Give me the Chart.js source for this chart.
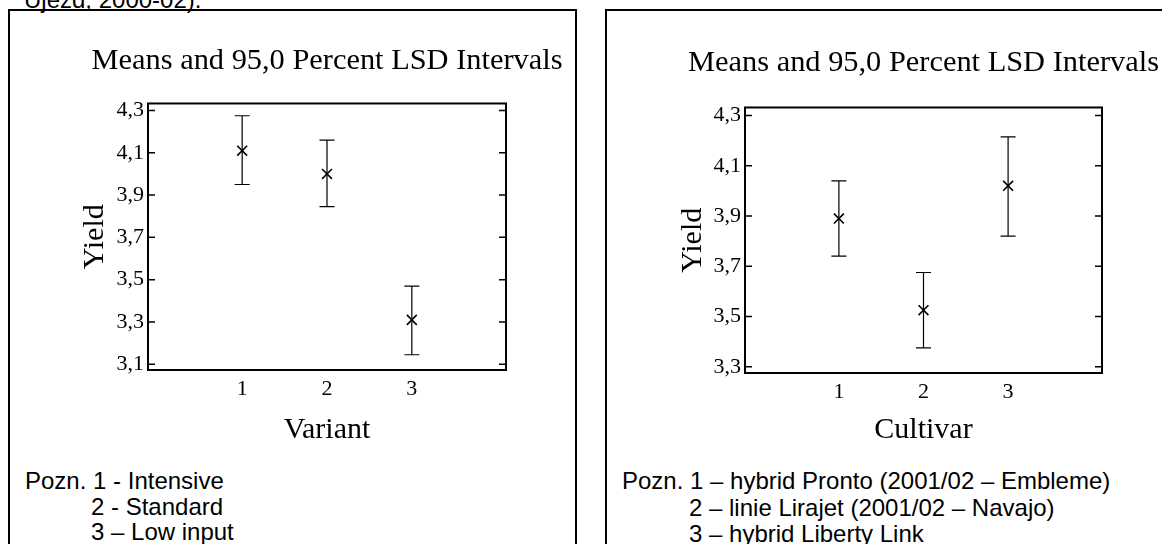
<!DOCTYPE html>
<html>
<head>
<meta charset="utf-8">
<script src="https://cdn.jsdelivr.net/npm/chart.js@4.4.1/dist/chart.umd.min.js"></script>
<style>
  html, body { margin: 0; padding: 0; background: #fff; }
  body { width: 1162px; height: 544px; position: relative; overflow: hidden; }
  .frame { position: absolute; border: 2px solid #000; box-sizing: border-box; }
  .note { position: absolute; font-family: "Liberation Sans", Arial, sans-serif; font-size: 24px; line-height: 26px; color: #000; white-space: nowrap; }
  canvas { position: absolute; top: 0; }
</style>
</head>
<body>
<div class="note" style="left:24px; top:-13px;">Ujezd, 2000-02).</div>
<div class="frame" style="left:8px; top:9px; width:569px; height:600px;"></div>
<div class="frame" style="left:605px; top:9px; width:600px; height:600px;"></div>

<canvas id="variantChart" width="580" height="460" style="left:0px;"></canvas>
<canvas id="cultivarChart" width="600" height="460" style="left:582px;"></canvas>

<div class="note" style="left:25px; top:468px;">Pozn. 1 - Intensive</div>
<div class="note" style="left:91px; top:494px;">2 - Standard</div>
<div class="note" style="left:91px; top:519px;">3 – Low input</div>

<div class="note" style="left:622px; top:468px;">Pozn. 1 – hybrid Pronto (2001/02 – Embleme)</div>
<div class="note" style="left:689px; top:495px;">2 – linie Lirajet (2001/02 – Navajo)</div>
<div class="note" style="left:689px; top:521px;">3 – hybrid Liberty Link</div>

<script>
// data
const chartTitle = "Means and 95,0 Percent LSD Intervals";

const variantX = [1, 2, 3];
const variantMeans = [4.11, 4.0, 3.31];
const variantLow = [3.95, 3.845, 3.145];
const variantHigh = [4.275, 4.16, 3.47];
const variantTicks = [3.1, 3.3, 3.5, 3.7, 3.9, 4.1, 4.3];

const cultivarX = [1, 2, 3];
const cultivarMeans = [3.89, 3.525, 4.02];
const cultivarLow = [3.74, 3.375, 3.82];
const cultivarHigh = [4.04, 3.675, 4.215];
const cultivarTicks = [3.3, 3.5, 3.7, 3.9, 4.1, 4.3];

const serif = "'Liberation Serif', 'Times New Roman', serif";

Chart.defaults.color = "#000";

// LSD whiskers, plot frame and inner tick marks
const lsdPlugin = {
  id: "lsd",
  afterDatasetsDraw(chart) {
    const ctx = chart.ctx;
    const xs = chart.scales.x, ys = chart.scales.y;
    const a = chart.chartArea;
    ctx.save();
    ctx.strokeStyle = "#000";

    chart.data.datasets.forEach((ds) => {
      ds.data.forEach((p, i) => {
        const px = xs.getPixelForValue(p.x);
        const top = ys.getPixelForValue(ds.errHigh[i]);
        const bot = ys.getPixelForValue(ds.errLow[i]);
        ctx.lineWidth = 1.2;
        ctx.beginPath();
        ctx.moveTo(px, top);
        ctx.lineTo(px, bot);
        ctx.moveTo(px - 7.5, top);
        ctx.lineTo(px + 7.5, top);
        ctx.moveTo(px - 7.5, bot);
        ctx.lineTo(px + 7.5, bot);
        ctx.stroke();
      });
    });

    ctx.lineWidth = 1.5;
    ys.ticks.forEach((t) => {
      const py = ys.getPixelForValue(t.value);
      ctx.beginPath();
      ctx.moveTo(a.left, py);
      ctx.lineTo(a.left + 7, py);
      ctx.moveTo(a.right - 7, py);
      ctx.lineTo(a.right, py);
      ctx.stroke();
    });

    ctx.lineWidth = 2;
    ctx.strokeRect(a.left, a.top, a.right - a.left, a.bottom - a.top);
    ctx.restore();
  },
};

function makeChart(id, cfg) {
  const fmt = (v) => Number(v).toFixed(1).replace(".", ",");
  return new Chart(document.getElementById(id), {
    type: "scatter",
    data: {
      datasets: [
        {
          data: cfg.xs.map((x, i) => ({ x: x, y: cfg.means[i] })),
          errLow: cfg.low,
          errHigh: cfg.high,
          pointStyle: "crossRot",
          pointRadius: 7,
          borderColor: "#000",
          backgroundColor: "#000",
          borderWidth: 1.6,
        },
      ],
    },
    plugins: [lsdPlugin],
    options: {
      responsive: false,
      animation: false,
      devicePixelRatio: 1,
      layout: { padding: cfg.padding },
      plugins: {
        legend: { display: false },
        tooltip: { enabled: false },
        title: {
          display: true,
          text: chartTitle,
          color: "#000",
          font: { family: serif, size: 30.4, weight: "normal", lineHeight: 1.2 },
          padding: cfg.titlePad,
        },
      },
      scales: {
        x: {
          type: "linear",
          position: "bottom",
          min: -0.11,
          max: 4.11,
          afterBuildTicks: (s) => { s.ticks = cfg.xs.map((v) => ({ value: v })); },
          afterFit: (s) => { s.height = 80; },
          ticks: { font: { family: serif, size: 22 }, padding: 6, maxRotation: 0, autoSkip: false, callback: (v) => String(v) },
          grid: { display: false, drawTicks: false },
          border: { display: false },
          title: {
            display: true,
            text: cfg.xTitle,
            font: { family: serif, size: 30, lineHeight: 1 },
            padding: { top: 0, bottom: cfg.xTitlePad },
          },
        },
        y: {
          type: "linear",
          position: "left",
          min: cfg.yMin,
          max: cfg.yMax,
          afterBuildTicks: (s) => { s.ticks = cfg.ticks.map((v) => ({ value: v })); },
          afterFit: (s) => { s.width = 70; },
          ticks: { font: { family: serif, size: 22 }, padding: 4, callback: fmt },
          grid: { display: false, drawTicks: false },
          border: { display: false },
          title: {
            display: true,
            text: "Yield",
            font: { family: serif, size: 30, lineHeight: 1 },
            padding: { top: cfg.yTitlePad, bottom: 0 },
          },
        },
        // empty axis on the right so the title centres over the plot
        y2: {
          type: "linear",
          position: "right",
          afterFit: (s) => { s.width = 70; },
          ticks: { display: false },
          grid: { display: false, drawTicks: false },
          border: { display: false },
        },
      },
    },
  });
}

makeChart("variantChart", {
  xs: variantX,
  means: variantMeans,
  low: variantLow,
  high: variantHigh,
  ticks: variantTicks,
  yMin: 3.073,
  yMax: 4.333,
  xTitle: "Variant",
  xTitlePad: 5,
  yTitlePad: 2,
  padding: { left: 78, right: 4, top: 0, bottom: 10 },
  titlePad: { top: 43, bottom: 24 },
});

makeChart("cultivarChart", {
  xs: cultivarX,
  means: cultivarMeans,
  low: cultivarLow,
  high: cultivarHigh,
  ticks: cultivarTicks,
  yMin: 3.275,
  yMax: 4.332,
  xTitle: "Cultivar",
  xTitlePad: 8,
  yTitlePad: 3,
  padding: { left: 93, right: 10, top: 0, bottom: 7 },
  titlePad: { top: 45, bottom: 26 },
});
</script>
</body>
</html>
